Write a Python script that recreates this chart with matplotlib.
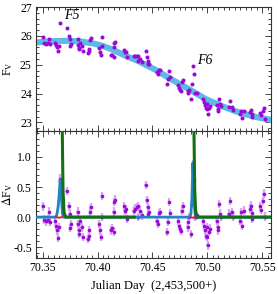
import matplotlib
matplotlib.use("Agg")
import matplotlib.pyplot as plt
from matplotlib.ticker import MultipleLocator, FormatStrFormatter

plt.rcParams['font.family'] = ['Liberation Serif', 'DejaVu Serif']
plt.rcParams['mathtext.fontset'] = 'stix'

# observation times (JD - 2,453,500)
t = [70.3500, 70.3517, 70.3530, 70.3553, 70.3562, 70.3568, 70.3614, 70.3623, 70.3635, 70.3644,
     70.3653, 70.3660, 70.3721, 70.3736, 70.3745, 70.3751, 70.3760, 70.3818, 70.3821, 70.3827,
     70.3836, 70.3842, 70.3858, 70.3867, 70.3909, 70.3918, 70.3927, 70.3933, 70.3940, 70.4018,
     70.4025, 70.4034, 70.4040, 70.4043, 70.4122, 70.4131, 70.4146, 70.4150, 70.4152, 70.4161,
     70.4243, 70.4252, 70.4261, 70.4268, 70.4328, 70.4344, 70.4359, 70.4365, 70.4371, 70.4387,
     70.4401, 70.4438, 70.4447, 70.4456, 70.4463, 70.4469, 70.4538, 70.4547, 70.4560, 70.4569,
     70.4630, 70.4639, 70.4651, 70.4660, 70.4736, 70.4742, 70.4751, 70.4760, 70.4766, 70.4775,
     70.4821, 70.4827, 70.4837, 70.4852, 70.4858, 70.4868, 70.4877, 70.4889, 70.4903, 70.4964,
     70.4973, 70.4980, 70.4989, 70.4995, 70.5001, 70.5004, 70.5017, 70.5026, 70.5086, 70.5095,
     70.5101, 70.5110, 70.5117, 70.5126, 70.5193, 70.5208, 70.5223, 70.5232, 70.5299, 70.5308,
     70.5320, 70.5330, 70.5391, 70.5400, 70.5406, 70.5411, 70.5482, 70.5491, 70.5503, 70.5512,
     70.5521]

# observed flux
fv = [25.97, 25.76, 25.73, 25.77, 25.90, 25.73, 25.76, 25.67, 25.60, 25.48,
      25.65, 26.46, 26.26, 26.01, 25.89, 25.65, 25.71, 25.70, 25.90, 25.59,
      25.53, 25.75, 25.64, 25.48, 25.42, 25.46, 25.56, 25.86, 25.94, 25.57,
      25.45, 25.33, 25.66, 25.95, 25.33, 25.35, 25.60, 25.27, 25.75, 25.78,
      25.52, 25.43, 25.43, 25.26, 25.31, 25.31, 25.32, 25.14, 25.31, 25.21,
      25.10, 25.48, 25.26, 25.13, 25.01, 25.02, 24.75, 24.68, 24.83, 24.82,
      24.34, 24.49, 24.79, 24.59, 24.30, 24.21, 24.14, 24.08, 24.40, 24.46,
      24.01, 24.09, 24.14, 23.83, 24.32, 24.96, 24.68, 24.03, 24.03, 23.81,
      23.71, 23.61, 23.50, 23.63, 23.46, 23.31, 23.51, 23.56, 23.59, 23.46,
      23.40, 23.82, 23.65, 23.58, 23.54, 23.73, 23.52, 23.44, 23.28, 23.41,
      23.17, 23.41, 23.38, 23.42, 23.19, 23.29, 23.33, 23.26, 23.40, 23.51,
      23.13]

# residuals
dfv = [0.18, -0.04, -0.07, -0.04, 0.09, -0.08, -0.06, -0.15, -0.22, -0.34,
       -0.17, 0.64, 0.43, 0.18, 0.06, -0.18, -0.12, -0.11, 0.09, -0.22,
       -0.28, -0.06, -0.17, -0.33, -0.36, -0.32, -0.22, 0.08, 0.16, -0.11,
       -0.22, -0.33, 0.00, 0.35, -0.22, -0.18, 0.09, -0.24, 0.25, 0.29,
       0.18, 0.11, 0.13, -0.03, 0.11, 0.14, 0.17, 0.00, 0.18, 0.11,
       0.03, 0.53, 0.28, 0.17, 0.06, 0.08, -0.06, -0.11, 0.07, 0.08,
       -0.25, -0.08, 0.25, 0.07, -0.06, -0.14, -0.19, -0.23, 0.11, 0.18,
       -0.17, -0.08, 0.00, -0.28, 0.22, 0.88, 0.62, 0.00, 0.03, -0.06,
       -0.14, -0.22, -0.31, -0.17, -0.33, -0.47, -0.25, -0.19, -0.06, -0.17,
       -0.22, 0.22, 0.06, 0.00, 0.06, 0.27, 0.08, 0.01, -0.06, 0.08,
       -0.14, 0.11, 0.14, 0.19, -0.03, 0.07, 0.18, 0.12, 0.27, 0.39,
       0.01]

# smooth quiescent model (top panel)
t_model = [70.344, 70.352, 70.360, 70.372, 70.384, 70.396, 70.405, 70.414, 70.425,
           70.437, 70.453, 70.467, 70.483, 70.498, 70.513, 70.528, 70.544, 70.558]
fv_model = [25.77, 25.80, 25.82, 25.83, 25.81, 25.74, 25.65, 25.52, 25.32,
            25.13, 24.82, 24.50, 24.16, 23.82, 23.57, 23.36, 23.19, 23.09]

# flare models (bottom panel)
t_blue = [70.344, 70.3619, 70.3630, 70.3642, 70.3652, 70.3660, 70.3670, 70.3680, 70.3687,
          70.4841, 70.4850, 70.4858, 70.4864, 70.4868, 70.4876, 70.4884, 70.4891, 70.558]
dfv_blue = [0.0, 0.0, 0.04, 0.18, 0.40, 0.62, 0.35, 0.08, 0.0,
            0.0, 0.05, 0.25, 0.60, 0.90, 0.55, 0.15, 0.0, 0.0]
t_green1 = [70.3678, 70.3686, 70.3695, 70.3710, 70.4335]
dfv_green1 = [1.60, 0.45, 0.08, 0.0, 0.0]
t_green2 = [70.4877, 70.4885, 70.4894, 70.4908, 70.558]
dfv_green2 = [1.60, 0.45, 0.08, 0.0, 0.0]
t_red1 = [70.3622, 70.3650, 70.3676]
dfv_red1 = [0.0, -0.01, 0.0]
t_red2 = [70.4843, 70.4870, 70.4897]
dfv_red2 = [0.0, -0.01, 0.0]

PURPLE = '#9a0ad6'
LIGHT = '#d9a8f2'

fig = plt.figure(figsize=(2.78, 2.94), dpi=100)
ax1 = fig.add_axes([0.1295, 0.554, 0.8455, 0.422])
ax2 = fig.add_axes([0.1295, 0.1224, 0.8455, 0.4316])

ax1.plot(t_model, fv_model, color='#5dbae8', lw=4.4, solid_capstyle='round', zorder=2)
ax1.plot(t, fv, 'o', color=PURPLE, ms=2.9, mec='none', zorder=3)
ax1.text(70.377, 26.70, 'F5', fontsize=10, style='italic', ha='center', va='center')
ax1.text(70.4978, 25.16, 'F6', fontsize=10, style='italic', ha='center', va='center')
ax1.set_xlim(70.344, 70.558)
ax1.set_ylim(22.7, 27.0)
ax1.yaxis.set_major_locator(MultipleLocator(1))
ax1.yaxis.set_minor_locator(MultipleLocator(0.2))
ax1.set_ylabel('F$_\\mathrm{V}$', fontsize=8.5)
ax1.tick_params(labelbottom=False)

ax2.errorbar(t, dfv, yerr=0.07, xerr=0.0013, fmt='none', ecolor=LIGHT, elinewidth=1.7, capsize=0, zorder=1)
ax2.plot(t, dfv, 'o', color=PURPLE, ms=2.6, mec='none', zorder=2)
ax2.plot(t_blue, dfv_blue, color='#2383c6', lw=2.0, zorder=3)
ax2.plot(t_red1, dfv_red1, color='#e8201c', lw=1.4, zorder=4)
ax2.plot(t_red2, dfv_red2, color='#e8201c', lw=1.4, zorder=4)
ax2.plot(t_green1, dfv_green1, color='#137013', lw=2.2, zorder=5)
ax2.plot(t_green2, dfv_green2, color='#137013', lw=2.2, zorder=5)
ax2.set_xlim(70.344, 70.558)
ax2.set_ylim(-0.68, 1.43)
ax2.yaxis.set_major_locator(MultipleLocator(0.5))
ax2.yaxis.set_minor_locator(MultipleLocator(0.1))
ax2.set_ylabel('$\\Delta$F$_\\mathrm{V}$', fontsize=8.5)
ax2.set_xlabel('Julian Day  (2,453,500+)', fontsize=9, labelpad=4)

for ax in (ax1, ax2):
    ax.xaxis.set_major_locator(MultipleLocator(0.05))
    ax.xaxis.set_minor_locator(MultipleLocator(0.005))
    ax.tick_params(which='both', direction='in', top=True, right=True, labelsize=8.5,
                   width=0.7, color='#444444', pad=3)
    ax.tick_params(which='major', length=4)
    ax.tick_params(which='minor', length=2)
    ax.yaxis.set_label_coords(-0.088, 0.5)
    for s in ax.spines.values():
        s.set_linewidth(0.8)
        s.set_color('#333333')

ax2.yaxis.set_major_formatter(FormatStrFormatter('%.1f'))
ax2.xaxis.set_major_formatter(FormatStrFormatter('%.2f'))

fig.savefig('out.png', dpi=100)
